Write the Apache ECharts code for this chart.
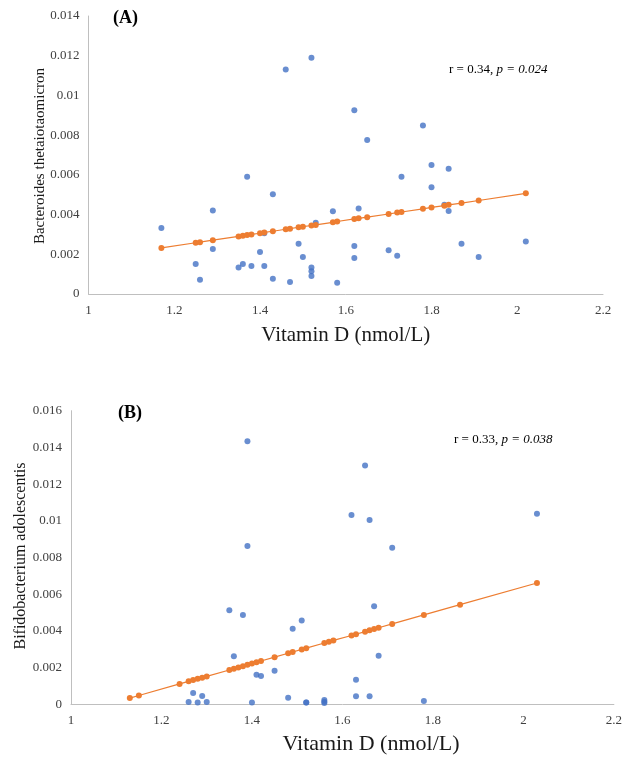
<!DOCTYPE html>
<html>
<head>
<meta charset="utf-8">
<script src="https://cdn.jsdelivr.net/npm/echarts@6/dist/echarts.min.js"></script>
<style>html,body{margin:0;padding:0;background:#fff}#c{width:625px;height:757px}</style>
</head>
<body>
<div id="c"></div>
<script>
// Panel A: Bacteroides thetaiotaomicron vs Vitamin D
const aVitD = [1.17,1.25,1.26,1.29,1.29,1.35,1.36,1.37,1.38,1.40,1.41,1.41,1.43,1.43,1.46,1.47,1.49,1.50,1.52,1.52,1.52,1.52,1.53,1.57,1.58,1.62,1.62,1.62,1.63,1.65,1.70,1.72,1.73,1.78,1.80,1.80,1.83,1.84,1.84,1.87,1.91,2.02];
const aBact = [0.00332,0.00151,0.00072,0.0042,0.00227,0.00133,0.00151,0.0059,0.00141,0.00212,0.00306,0.00141,0.00502,0.00077,0.0113,0.0006,0.00253,0.00186,0.0119,0.00133,0.00114,0.00091,0.00359,0.00417,0.00057,0.00925,0.00242,0.00181,0.0043,0.00776,0.0022,0.00193,0.0059,0.00848,0.0065,0.00537,0.0045,0.00631,0.00418,0.00253,0.00186,0.00265];
const aFitX = [1.17,1.25,1.26,1.29,1.35,1.36,1.37,1.38,1.40,1.41,1.43,1.46,1.47,1.49,1.50,1.52,1.53,1.57,1.58,1.62,1.63,1.65,1.70,1.72,1.73,1.78,1.80,1.83,1.84,1.87,1.91,2.02];
const aFitY = [0.00232,0.00258,0.00261,0.00271,0.00290,0.00293,0.00297,0.00300,0.00306,0.00310,0.00316,0.00326,0.00329,0.00336,0.00339,0.00345,0.00348,0.00361,0.00365,0.00378,0.00381,0.00387,0.00403,0.00410,0.00413,0.00429,0.00436,0.00445,0.00449,0.00458,0.00471,0.00507];

// Panel B: Bifidobacterium adolescentis vs Vitamin D
const bVitD = [1.26,1.27,1.28,1.29,1.30,1.35,1.36,1.38,1.39,1.39,1.40,1.41,1.42,1.45,1.48,1.49,1.51,1.52,1.52,1.56,1.56,1.56,1.62,1.63,1.63,1.65,1.66,1.66,1.67,1.68,1.71,1.78,2.03];
const bBifi = [0.00013,0.00062,0.0001,0.00045,0.00013,0.00512,0.00262,0.00487,0.01433,0.00863,0.0001,0.00161,0.00154,0.00183,0.00036,0.00412,0.00456,0.0001,0.0001,0.00023,0.00014,0.00007,0.01032,0.00134,0.00044,0.01302,0.01004,0.00044,0.00534,0.00265,0.00853,0.00018,0.01039];
const bFitX = [1.13,1.15,1.24,1.26,1.27,1.28,1.29,1.30,1.35,1.36,1.37,1.38,1.39,1.40,1.41,1.42,1.45,1.48,1.49,1.51,1.52,1.56,1.57,1.58,1.62,1.63,1.65,1.66,1.67,1.68,1.71,1.78,1.86,2.03];
const bFitY = [0.00034,0.00048,0.00111,0.00125,0.00132,0.00139,0.00145,0.00152,0.00187,0.00194,0.00201,0.00208,0.00215,0.00222,0.00229,0.00236,0.00257,0.00278,0.00285,0.00299,0.00306,0.00334,0.00341,0.00348,0.00375,0.00382,0.00396,0.00403,0.00410,0.00417,0.00438,0.00487,0.00543,0.00661];

const xTicks = {min: 1, max: 2.2, interval: 0.2};
const FONT = '"Liberation Serif", "DejaVu Serif", serif';
const BLUE = '#4472C4', ORANGE = '#ED7D31', AXIS = '#BFBFBF', TXT = '#404040';

const zip = (xs, ys) => xs.map((x, i) => [x, ys[i]]);

function xAxis(gi, name) {
  return {
    type: 'value', gridIndex: gi, min: xTicks.min, max: xTicks.max, interval: xTicks.interval,
    axisLine: {show: true, lineStyle: {color: AXIS, width: 1}},
    axisTick: {show: false}, splitLine: {show: false},
    axisLabel: {fontFamily: FONT, fontSize: 13, color: TXT, margin: 10},
    name: name, nameLocation: 'middle', nameGap: 31,
    nameTextStyle: {fontFamily: FONT, fontSize: 21, color: '#1a1a1a'}
  };
}
function yAxis(gi, max) {
  return {
    type: 'value', gridIndex: gi, min: 0, max: max, interval: 0.002,
    axisLine: {show: true, lineStyle: {color: AXIS, width: 1}},
    axisTick: {show: false}, splitLine: {show: false},
    axisLabel: {fontFamily: FONT, fontSize: 13, color: TXT, margin: 9}
  };
}

const chart = echarts.init(document.getElementById('c'), null, {renderer: 'canvas'});
chart.setOption({
  animation: false,
  backgroundColor: '#fff',
  grid: [
    {left: 88.5, top: 16, width: 514.5, height: 278},
    {left: 71, top: 410.7, width: 545, height: 293.6}
  ],
  xAxis: [xAxis(0, 'Vitamin D (nmol/L)'), xAxis(1, '')],
  yAxis: [yAxis(0, 0.014), yAxis(1, 0.016)],
  graphic: [
    {type: 'text', left: 113, top: 9, style: {text: '(A)', font: 'bold 18px ' + FONT, fill: '#000'}},
    {type: 'text', left: 118, top: 404, style: {text: '(B)', font: 'bold 18px ' + FONT, fill: '#000'}},
    {type: 'text', x: 40, y: 156, rotation: Math.PI / 2, style: {text: 'Bacteroides thetaiotaomicron',
        font: '15px ' + FONT, fill: '#1a1a1a', textAlign: 'center', textVerticalAlign: 'middle'}},
    {type: 'text', x: 21, y: 556, rotation: Math.PI / 2, style: {text: 'Bifidobacterium adolescentis',
        font: '16px ' + FONT, fill: '#1a1a1a', textAlign: 'center', textVerticalAlign: 'middle'}},
    {type: 'text', x: 371, y: 744, style: {text: 'Vitamin D (nmol/L)', font: '22px ' + FONT, fill: '#1a1a1a',
        textAlign: 'center', textVerticalAlign: 'middle'}},
    {type: 'text', left: 449, top: 63, style: {rich: {
        r: {font: '13px ' + FONT, fill: '#000'}, i: {font: 'italic 13px ' + FONT, fill: '#000'}},
        text: '{r|r = 0.34, }{i|p = 0.024}'}},
    {type: 'text', left: 454, top: 433, style: {rich: {
        r: {font: '13px ' + FONT, fill: '#000'}, i: {font: 'italic 13px ' + FONT, fill: '#000'}},
        text: '{r|r = 0.33, }{i|p = 0.038}'}}
  ],
  series: [
    {type: 'scatter', xAxisIndex: 0, yAxisIndex: 0, data: zip(aVitD, aBact), symbolSize: 6, itemStyle: {color: BLUE}},
    {type: 'line', xAxisIndex: 0, yAxisIndex: 0, data: zip(aFitX, aFitY), symbol: 'circle', symbolSize: 6,
     showAllSymbol: true, lineStyle: {color: ORANGE, width: 1.2}, itemStyle: {color: ORANGE}},
    {type: 'scatter', xAxisIndex: 1, yAxisIndex: 1, data: zip(bVitD, bBifi), symbolSize: 6, itemStyle: {color: BLUE}},
    {type: 'line', xAxisIndex: 1, yAxisIndex: 1, data: zip(bFitX, bFitY), symbol: 'circle', symbolSize: 6,
     showAllSymbol: true, lineStyle: {color: ORANGE, width: 1.2}, itemStyle: {color: ORANGE}}
  ]
});
</script>
</body>
</html>
